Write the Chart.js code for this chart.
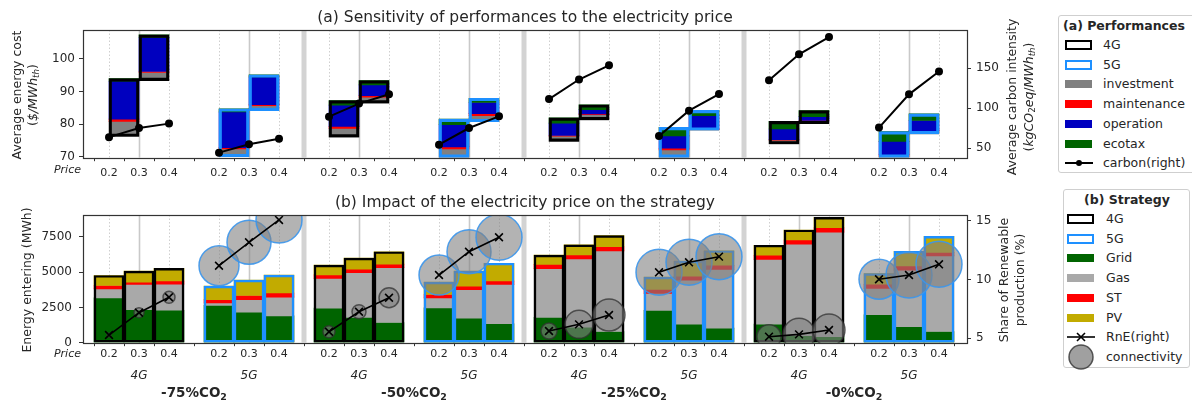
<!DOCTYPE html>
<html>
<head>
<meta charset="utf-8">
<script src="https://cdn.jsdelivr.net/npm/chart.js@4.4.1/dist/chart.umd.min.js"></script>
<style>
  html, body { margin:0; padding:0; background:#fff; }
  #wrap { position:relative; width:1192px; height:407px; overflow:hidden; font-family:'DejaVu Sans', sans-serif; color:#262626; }
  #wrap canvas { position:absolute; left:0; }
  .lbl { position:absolute; white-space:nowrap; line-height:1; }
  .c { transform:translate(-50%,-50%); }
  .rc { transform:translate(-100%,-50%); }
  .r { transform:translate(-50%,-50%) rotate(-90deg); }
  .lbl sub { font-size:70%; vertical-align:-0.3em; line-height:0; }
  .leg { position:absolute; background:#fff; border:1px solid #cfcfcf; border-radius:3px; box-sizing:border-box; }
  .legt { position:absolute; font-weight:bold; font-size:12.5px; white-space:nowrap; line-height:1; }
  .legl { position:absolute; font-size:12.5px; white-space:nowrap; line-height:1; transform:translateY(-50%); }
  .patch { position:absolute; box-sizing:border-box; transform:translateY(-50%); }
</style>
</head>
<body>
<div id="wrap">
  <canvas id="topChart" width="1192" height="185" style="top:0px"></canvas>
  <canvas id="botChart" width="1192" height="222" style="top:185px"></canvas>
</div>
<script>
// ---------------- DATA ----------------
const scenarios = ['-75%CO2', '-50%CO2', '-25%CO2', '-0%CO2'];
const technologies = ['4G', '5G'];
const priceLabels = ['0.2', '0.3', '0.4'];
const costTicks = [70, 80, 90, 100];
const carbonTicks = [50, 100, 150];
const energyTicks = [0, 2500, 5000, 7500];
const rneTicks = [5, 10, 15];

// (a) cost boxes: 8 groups (scenario x tech), 2 boxes each (price 0.2 and 0.3), $/MWh_th
const costBase    = [76.2, 93.3, 70.0, 84.1, 76.0, 86.4, 69.8, 80.7, 74.7, 81.3, 69.8, 78.1, 73.9, 80.1, 69.8, 77.0];
const investment  = [4.6, 2.5, 2.4, 1.5, 2.7, 1.8, 2.6, 1.9, 1.6, 1.6, 2.3, 0.2, 1.2, 0.9, 0.4, 0.9];
const maintenance = [0.7, 0.3, 0.4, 0.3, 0.6, 0.5, 0.6, 0.6, 0.2, 0.2, 0.5, 0.1, 0.1, 0.1, 0.4, 0.1];
const operation   = [11.6, 10.4, 10.9, 8.5, 6.5, 3.3, 6.8, 3.4, 3.8, 1.3, 3.8, 4.2, 3.3, 1.2, 4.1, 3.1];
const ecotax      = [0.8, 0.8, 1.0, 0.7, 1.4, 1.3, 1.7, 1.3, 1.6, 1.5, 2.6, 1.6, 2.3, 1.8, 3.0, 2.0];
// carbon intensity (right axis), 3 prices per group
const carbon = [64, 75.4, 80.9,  44.6, 55, 62,  89.6, 105.9, 117.5,  54.6, 75.4, 90,
                111.6, 136, 153.8,  65.4, 97.1, 117.9,  135, 167.5, 189,  75.9, 117.5, 146];

// (b) energy entering (MWh), 3 prices per group
const gridEnergy = [3170, 2340, 2300,  2640, 2170, 1900,  2450, 1790, 1430,  2460, 1740, 1340,
                    1790, 1100, 790,   2290, 1310, 1030,  1310, 500, 430,    1980, 1140, 790];
const gasEnergy  = [640, 1785, 1850,   170, 880, 1330,    2100, 3170, 3890,  710, 2020, 2785,
                    3450, 4830, 5710,  1190, 3110, 4160,  4590, 6480, 7400,  1860, 4000, 5360];
const stEnergy   = [240, 165, 215,  240, 290, 290,  250, 240, 240,  240, 240, 240,
                    300, 280, 290,  290, 290, 290,  290, 290, 310,  300, 290, 240];
const pvEnergy   = [710, 785, 900,  950, 1090, 1260,  700, 790, 880,  880, 1070, 1260,
                    660, 720, 790,  880, 1070, 1030,  710, 710, 740,  750, 1030, 1140];
// share of renewable production (%)
const rne = [5.28, 7.18, 8.49,  11.17, 13.16, 15.06,  5.56, 7.26, 8.45,  10.38, 12.36, 13.59,
             5.62, 6.19, 6.98,  10.61, 11.46, 11.94,  5.14, 5.34, 5.71,  10.02, 10.38, 11.29];
// connectivity (relative size)
const connectivity = [2, 5, 6,  20, 22, 23,  6, 7, 10,  20, 22, 23,
                      8, 14, 16,  23, 23, 23,  12, 16, 16,  20, 23, 23];

// ---------------- STYLE / LAYOUT ----------------
const FONT = "'DejaVu Sans', sans-serif";
Chart.defaults.font.family = FONT;
Chart.defaults.color = '#262626';
const C = {
  investment: '#808080', maintenance: '#ff0000', operation: '#0000bf', ecotax: '#006400',
  grid: '#006400', gas: '#a9a9a9', st: '#ff0000', pv: '#c2ab00',
  edge4G: '#000000', edge5G: '#1e90ff'
};
const GROUP_STEP = 11 / 3;
const xPos = (g, i) => g * GROUP_STEP + i;
const nGroups = scenarios.length * technologies.length;
const techOf = g => technologies[g % technologies.length];
const edgeOf = g => techOf(g) === '4G' ? C.edge4G : C.edge5G;
const X_MIN = -0.867, X_MAX = 28.6;
const xTickValues = [];
for (let g = 0; g < nGroups; g++) for (let i = 0; i < priceLabels.length; i++) xTickValues.push(xPos(g, i));
const RADIUS_PER_UNIT = 1;

// ---------------- BUILD DATASETS ----------------
const invD = [], mntD = [], opD = [], ecoD = [], topFrame = [], topFrameCol = [];
for (let g = 0; g < nGroups; g++) {
  for (let b = 0; b < 2; b++) {
    const k = g * 2 + b, cx = xPos(g, b) + 0.5;
    let lo = costBase[k];
    const seg = v => { const r = {x: cx, y: [lo, lo + v]}; lo += v; return r; };
    invD.push(seg(investment[k])); mntD.push(seg(maintenance[k]));
    opD.push(seg(operation[k])); ecoD.push(seg(ecotax[k]));
    topFrame.push({x: cx, y: [costBase[k], lo]}); topFrameCol.push(edgeOf(g));
  }
}
const carbonLine = [];
for (let g = 0; g < nGroups; g++) {
  for (let i = 0; i < 3; i++) carbonLine.push({x: xPos(g, i), y: carbon[g * 3 + i]});
  if (g < nGroups - 1) carbonLine.push({x: xPos(g, 2) + 0.8, y: null});
}
const gridD = [], gasD = [], stD = [], pvD = [], botFrame = [], botFrameCol = [];
const rneLine = [], bubbles = [], bubbleEdge = [];
for (let g = 0; g < nGroups; g++) {
  for (let i = 0; i < 3; i++) {
    const k = g * 3 + i, cx = xPos(g, i);
    let lo = 0;
    const seg = v => { const r = {x: cx, y: [lo, lo + v]}; lo += v; return r; };
    gridD.push(seg(gridEnergy[k])); gasD.push(seg(gasEnergy[k]));
    stD.push(seg(stEnergy[k])); pvD.push(seg(pvEnergy[k]));
    botFrame.push({x: cx, y: [0, lo]}); botFrameCol.push(edgeOf(g));
    rneLine.push({x: cx, y: rne[k]});
    bubbles.push({x: cx, y: rne[k], r: connectivity[k] * RADIUS_PER_UNIT});
    bubbleEdge.push(techOf(g) === '4G' ? 'rgba(50,50,50,0.75)' : 'rgba(60,150,235,0.9)');
  }
  if (g < nGroups - 1) rneLine.push({x: xPos(g, 2) + 0.8, y: null});
}

const barBase = {type: 'bar', grouped: false, categoryPercentage: 1, barPercentage: 1, borderWidth: 0, yAxisID: 'y'};

// ---------------- PLUGINS ----------------
const panelPlugin = {
  id: 'panelDecor',
  beforeDatasetsDraw(chart) {
    const {ctx, chartArea: a, scales: {x}} = chart;
    ctx.save();
    ctx.beginPath(); ctx.rect(a.left, a.top, a.right - a.left, a.bottom - a.top); ctx.clip();
    for (let g = 0; g < nGroups; g++) {
      for (let i = 0; i < priceLabels.length; i++) {
        const px = Math.round(x.getPixelForValue(xPos(g, i))) + 0.5;
        ctx.beginPath();
        if (i === 1) { ctx.setLineDash([]); ctx.strokeStyle = '#c9c9c9'; ctx.lineWidth = 1.6; }
        else { ctx.setLineDash([1.5, 2]); ctx.strokeStyle = '#cfcfcf'; ctx.lineWidth = 1; }
        ctx.moveTo(px, a.top); ctx.lineTo(px, a.bottom); ctx.stroke();
      }
    }
    ctx.setLineDash([]);
    for (let s = 0; s < scenarios.length - 1; s++) {
      const u = (xPos(2 * s + 1, 2) + xPos(2 * s + 2, 0)) / 2;
      const px = x.getPixelForValue(u);
      ctx.beginPath(); ctx.strokeStyle = '#d3d3d3'; ctx.lineWidth = 5;
      ctx.moveTo(px, a.top); ctx.lineTo(px, a.bottom); ctx.stroke();
    }
    ctx.restore();
  },
  afterDatasetsDraw(chart) {
    const {ctx, chartArea: a} = chart;
    ctx.save();
    ctx.strokeStyle = '#333'; ctx.lineWidth = 1.2;
    ctx.strokeRect(Math.round(a.left) + 0.5, Math.round(a.top) + 0.5, Math.round(a.right - a.left), Math.round(a.bottom - a.top));
    ctx.restore();
  }
};

function xScale(padding) {
  return {
    type: 'linear', min: X_MIN, max: X_MAX, offset: false,
    grid: {display: true, drawOnChartArea: false, drawTicks: true, tickLength: 3.5, color: '#333', tickWidth: 1},
    border: {display: false},
    afterBuildTicks: s => { s.ticks = xTickValues.map(v => ({value: v})); },
    ticks: {autoSkip: false, maxRotation: 0, minRotation: 0, padding: padding, font: {size: 11},
            callback: (v, i) => priceLabels[i % priceLabels.length]}
  };
}
function yScale(pos, min, max, ticks, width, pad) {
  return {
    type: 'linear', position: pos, min: min, max: max,
    afterBuildTicks: s => { s.ticks = ticks.map(v => ({value: v})); },
    afterFit: s => { s.width = width; },
    grid: {drawOnChartArea: false, drawTicks: true, tickLength: 4, color: '#333', tickWidth: 1},
    border: {display: false},
    ticks: {padding: pad, font: {size: 12}, callback: v => String(v)}
  };
}

// ---------------- TOP CHART ----------------
const topX = xScale(5.5); topX.afterFit = s => { s.height = 185 - 157.7; };
const topChart = new Chart(document.getElementById('topChart'), {
  type: 'bar',
  data: {datasets: [
    {type: 'line', label: 'carbon(right)', data: carbonLine, yAxisID: 'y1', borderColor: '#000', borderWidth: 2,
     pointRadius: 3, pointBackgroundColor: '#000', pointBorderColor: '#000', spanGaps: false, clip: 0},
    Object.assign({}, barBase, {label: 'frame', data: topFrame, backgroundColor: 'rgba(0,0,0,0)', borderColor: topFrameCol, borderWidth: 2.5, borderSkipped: false}),
    Object.assign({}, barBase, {label: 'ecotax', data: ecoD, backgroundColor: C.ecotax}),
    Object.assign({}, barBase, {label: 'operation', data: opD, backgroundColor: C.operation}),
    Object.assign({}, barBase, {label: 'maintenance', data: mntD, backgroundColor: C.maintenance}),
    Object.assign({}, barBase, {label: 'investment', data: invD, backgroundColor: C.investment})
  ]},
  options: {
    responsive: false, animation: false, devicePixelRatio: 1,
    layout: {padding: 0},
    plugins: {
      legend: {display: false}, tooltip: {enabled: false},
      title: {display: true, fullSize: false, text: '(a) Sensitivity of performances to the electricity price',
              font: {size: 15.5, weight: 'normal', lineHeight: 1.2}, color: '#262626', padding: {top: 9, bottom: 2.4}}
    },
    scales: {
      x: topX,
      y: yScale('left', 69.7, 108.8, costTicks, 83, 4),
      y1: yScale('right', 38.3, 197.9, carbonTicks, 225, 5)
    }
  },
  plugins: [panelPlugin]
});

// ---------------- BOTTOM CHART ----------------
const botX = xScale(1); botX.afterFit = s => { s.height = 222 - 157.7; };
const botChart = new Chart(document.getElementById('botChart'), {
  type: 'bar',
  data: {datasets: [
    {type: 'line', label: 'RnE(right)', data: rneLine, yAxisID: 'y1', borderColor: '#000', borderWidth: 1.6,
     pointStyle: 'crossRot', pointRadius: 5.5, pointBorderWidth: 1.6, pointBorderColor: '#000', spanGaps: false, clip: 0},
    {type: 'bubble', label: 'connectivity', data: bubbles, yAxisID: 'y1', backgroundColor: 'rgba(128,128,128,0.6)',
     borderColor: bubbleEdge, borderWidth: 1.5, clip: 0},
    Object.assign({}, barBase, {label: 'frame', data: botFrame, backgroundColor: 'rgba(0,0,0,0)', borderColor: botFrameCol, borderWidth: 1.8, borderSkipped: false}),
    Object.assign({}, barBase, {label: 'PV', data: pvD, backgroundColor: C.pv}),
    Object.assign({}, barBase, {label: 'ST', data: stD, backgroundColor: C.st}),
    Object.assign({}, barBase, {label: 'Gas', data: gasD, backgroundColor: C.gas}),
    Object.assign({}, barBase, {label: 'Grid', data: gridD, backgroundColor: C.grid})
  ]},
  options: {
    responsive: false, animation: false, devicePixelRatio: 1,
    layout: {padding: 0},
    plugins: {
      legend: {display: false}, tooltip: {enabled: false},
      title: {display: true, fullSize: false, text: '(b) Impact of the electricity price on the strategy',
              font: {size: 15.5, weight: 'normal', lineHeight: 1.2}, color: '#262626', padding: {top: 9, bottom: 2.4}}
    },
    scales: {
      x: botX,
      y: yScale('left', 0, 9040, energyTicks, 83, 7),
      y1: yScale('right', 4.63, 15.48, rneTicks, 225, 5)
    }
  },
  plugins: [panelPlugin]
});

// ---------------- HTML TEXT & LEGENDS ----------------
const wrap = document.getElementById('wrap');
function addDiv(html, cls, style) {
  const d = document.createElement('div'); d.className = cls; d.innerHTML = html;
  Object.assign(d.style, style); wrap.appendChild(d); return d;
}
const sub2 = s => s.replace(/CO2/, 'CO<sub>2</sub>');

// axis titles
addDiv('Average energy cost', 'lbl r', {left: '17px', top: '95px', fontSize: '12.5px'});
addDiv('(<i>$/MWh</i><sub><i>th</i></sub>)', 'lbl r', {left: '33px', top: '95px', fontSize: '12.5px'});
addDiv('Average carbon intensity', 'lbl r', {left: '1012px', top: '97px', fontSize: '12.5px'});
addDiv('(<i>kgCO</i><sub>2</sub><i>eq</i>/<i>MWh</i><sub><i>th</i></sub>)', 'lbl r', {left: '1029px', top: '97px', fontSize: '12.5px'});
addDiv('Energy entering (MWh)', 'lbl r', {left: '27px', top: '280px', fontSize: '12.5px'});
addDiv('Share of Renewable', 'lbl r', {left: '1004px', top: '280px', fontSize: '12.5px'});
addDiv('production (%)', 'lbl r', {left: '1020px', top: '280px', fontSize: '12.5px'});

// Price labels
addDiv('Price', 'lbl rc', {left: '81px', top: '169px', fontSize: '11px', fontStyle: 'italic'});
addDiv('Price', 'lbl rc', {left: '81px', top: '353px', fontSize: '11px', fontStyle: 'italic'});

// group labels from scale
const bx = botChart.scales.x;
for (let g = 0; g < nGroups; g++) {
  const px = bx.getPixelForValue(xPos(g, 1));
  addDiv(techOf(g), 'lbl c', {left: px + 'px', top: '375px', fontSize: '12px', fontStyle: 'italic'});
}
for (let s = 0; s < scenarios.length; s++) {
  const px = (bx.getPixelForValue(xPos(2 * s, 1)) + bx.getPixelForValue(xPos(2 * s + 1, 1))) / 2;
  addDiv(sub2(scenarios[s]), 'lbl c', {left: px + 'px', top: '393px', fontSize: '13.5px', fontWeight: 'bold'});
}

// legends
function glyph(kind, color) {
  if (kind === 'frame') return `<div style="width:27px;height:10px;border:2.5px solid ${color};box-sizing:border-box;background:#fff"></div>`;
  if (kind === 'fill') return `<div style="width:27px;height:8px;background:${color}"></div>`;
  if (kind === 'lineDot') return `<svg width="28" height="10"><line x1="0" y1="5" x2="28" y2="5" stroke="#000" stroke-width="2"/><circle cx="14" cy="5" r="3" fill="#000"/></svg>`;
  if (kind === 'lineX') return `<svg width="28" height="14"><line x1="0" y1="7" x2="28" y2="7" stroke="#000" stroke-width="1.6"/><path d="M10 3 L18 11 M18 3 L10 11" stroke="#000" stroke-width="1.6"/></svg>`;
  if (kind === 'circle') return `<svg width="28" height="28"><circle cx="14" cy="14" r="12" fill="rgba(128,128,128,0.75)" stroke="rgba(50,50,50,0.8)" stroke-width="1.5"/></svg>`;
}
function legend(box, title, titleStyle, items, x0, xl, y0, step) {
  addDiv('', 'leg', box);
  addDiv(title, 'legt', titleStyle);
  items.forEach((it, j) => {
    const y = y0 + j * step;
    addDiv(glyph(it[1], it[2]), 'patch', {left: x0 + 'px', top: y + 'px', lineHeight: 0});
    addDiv(it[0], 'legl', {left: xl + 'px', top: y + 'px'});
  });
}
legend({left: '1058px', top: '15px', width: '150px', height: '158px'}, '(a) Performances',
  {left: '1063px', top: '20px'},
  [['4G', 'frame', C.edge4G], ['5G', 'frame', C.edge5G], ['investment', 'fill', C.investment],
   ['maintenance', 'fill', C.maintenance], ['operation', 'fill', C.operation], ['ecotax', 'fill', C.ecotax],
   ['carbon(right)', 'lineDot']],
  1065, 1103, 45, 19.7);
legend({left: '1063px', top: '189px', width: '127px', height: '179px'}, '(b) Strategy',
  {left: '1127px', top: '200px', transform: 'translate(-50%,-50%)'},
  [['4G', 'frame', C.edge4G], ['5G', 'frame', C.edge5G], ['Grid', 'fill', C.grid], ['Gas', 'fill', C.gas],
   ['ST', 'fill', C.st], ['PV', 'fill', C.pv], ['RnE(right)', 'lineX'], ['connectivity', 'circle']],
  1067, 1106, 219, 19.7);
</script>
</body>
</html>
